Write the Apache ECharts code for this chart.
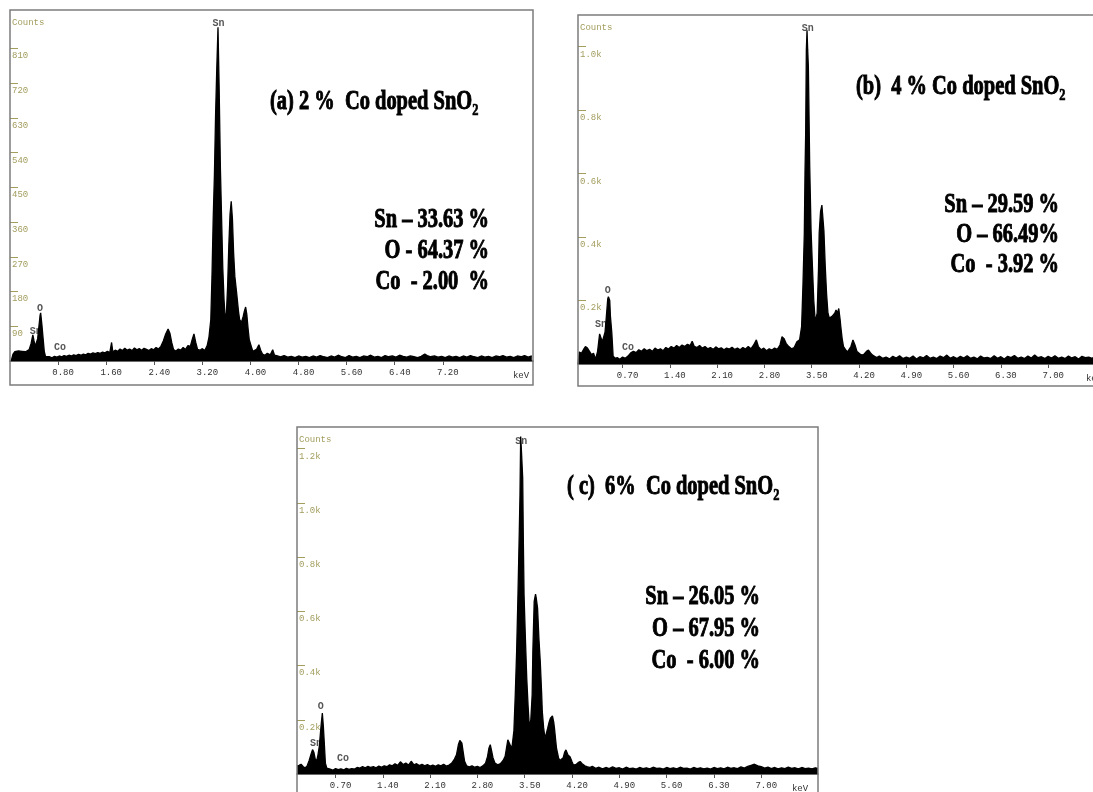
<!DOCTYPE html>
<html><head><meta charset="utf-8">
<script src="https://cdn.jsdelivr.net/npm/echarts@6/dist/echarts.min.js"></script>
<style>html,body{margin:0;padding:0;background:#fff;overflow:hidden}#chart{width:1093px;height:792px}</style>
</head><body><div id="chart"></div>
<script>
// ---- data: [energy keV, counts] ----
const spectrumA = [[0.02,0],[0.05,18],[0.08,24],[0.11,22],[0.14,26],[0.17,23],[0.20,25],[0.23,21],[0.26,24],[0.29,20],[0.32,30],[0.35,45],[0.38,68],[0.40,52],[0.42,38],[0.44,48],[0.46,58],[0.48,88],[0.50,118],[0.51,125],[0.53,95],[0.55,60],[0.57,25],[0.59,12],[0.62,9],[0.66,11],[0.70,8],[0.74,12],[0.78,10],[0.82,13],[0.86,11],[0.90,14],[0.94,12],[0.98,15],[1.02,13],[1.06,16],[1.10,14],[1.14,17],[1.18,15],[1.22,18],[1.26,16],[1.30,20],[1.34,18],[1.38,21],[1.42,19],[1.46,22],[1.50,20],[1.54,23],[1.58,21],[1.62,25],[1.66,22],[1.69,48],[1.71,24],[1.75,28],[1.79,25],[1.83,31],[1.87,27],[1.91,33],[1.95,28],[1.99,31],[2.03,27],[2.07,34],[2.11,29],[2.15,32],[2.19,28],[2.23,33],[2.27,30],[2.31,27],[2.35,32],[2.39,29],[2.43,35],[2.47,31],[2.51,38],[2.55,52],[2.59,70],[2.63,83],[2.66,72],[2.69,48],[2.72,30],[2.76,26],[2.80,31],[2.84,28],[2.88,35],[2.92,30],[2.96,40],[3.00,38],[3.03,55],[3.06,70],[3.09,48],[3.12,30],[3.16,28],[3.20,32],[3.24,27],[3.28,40],[3.31,62],[3.34,107],[3.36,220],[3.38,369],[3.40,480],[3.42,640],[3.44,761],[3.46,865],[3.48,700],[3.50,500],[3.52,369],[3.54,240],[3.56,160],[3.58,110],[3.60,125],[3.62,194],[3.64,300],[3.66,380],[3.68,414],[3.70,369],[3.72,280],[3.74,220],[3.77,177],[3.80,130],[3.82,107],[3.85,100],[3.88,116],[3.90,130],[3.92,140],[3.94,120],[3.96,85],[3.98,55],[4.01,40],[4.04,25],[4.07,20],[4.10,30],[4.14,42],[4.17,28],[4.20,18],[4.24,15],[4.28,20],[4.33,16],[4.37,29],[4.40,15],[4.45,13],[4.50,11],[4.56,14],[4.62,10],[4.68,12],[4.74,9],[4.80,13],[4.86,10],[4.92,12],[4.98,9],[5.04,13],[5.10,10],[5.16,14],[5.22,11],[5.28,9],[5.34,13],[5.40,10],[5.46,15],[5.52,11],[5.58,9],[5.64,14],[5.70,10],[5.76,12],[5.82,9],[5.88,13],[5.94,11],[6.00,15],[6.06,10],[6.12,12],[6.18,9],[6.24,14],[6.30,11],[6.36,13],[6.42,10],[6.48,15],[6.54,12],[6.60,10],[6.66,13],[6.72,11],[6.78,9],[6.84,12],[6.90,18],[6.94,14],[7.00,11],[7.06,13],[7.12,10],[7.18,12],[7.24,9],[7.30,13],[7.36,10],[7.42,12],[7.48,9],[7.54,13],[7.60,10],[7.66,14],[7.72,11],[7.78,9],[7.84,13],[7.90,10],[7.96,12],[8.02,9],[8.08,13],[8.14,11],[8.20,14],[8.26,10],[8.32,12],[8.38,9],[8.44,13],[8.50,11],[8.56,14],[8.62,10],[8.68,13]];

const spectrumB = [[0.04,0],[0.06,38],[0.09,34],[0.12,45],[0.15,55],[0.18,50],[0.21,40],[0.24,30],[0.27,34],[0.30,15],[0.33,40],[0.36,95],[0.38,97],[0.40,70],[0.42,76],[0.44,100],[0.46,150],[0.48,205],[0.49,212],[0.51,200],[0.52,150],[0.54,100],[0.56,25],[0.59,18],[0.62,20],[0.66,15],[0.70,22],[0.74,18],[0.78,25],[0.82,35],[0.86,40],[0.90,36],[0.94,45],[0.98,40],[1.02,48],[1.06,42],[1.10,46],[1.14,40],[1.18,50],[1.22,44],[1.26,48],[1.30,42],[1.34,52],[1.38,47],[1.42,55],[1.46,50],[1.50,58],[1.54,52],[1.58,60],[1.62,55],[1.66,62],[1.70,58],[1.73,72],[1.76,56],[1.80,52],[1.84,58],[1.88,50],[1.92,55],[1.96,48],[2.00,52],[2.04,46],[2.08,54],[2.12,48],[2.16,51],[2.20,45],[2.24,50],[2.28,47],[2.32,53],[2.36,46],[2.40,50],[2.44,45],[2.48,52],[2.52,47],[2.56,55],[2.60,48],[2.64,60],[2.68,76],[2.71,55],[2.75,45],[2.79,50],[2.83,42],[2.87,48],[2.91,44],[2.95,50],[2.99,46],[3.03,60],[3.06,86],[3.09,80],[3.12,65],[3.16,55],[3.20,48],[3.24,52],[3.28,70],[3.32,76],[3.35,118],[3.37,250],[3.39,412],[3.40,600],[3.41,727],[3.42,989],[3.43,1052],[3.44,990],[3.45,937],[3.47,622],[3.49,420],[3.51,307],[3.53,200],[3.55,139],[3.57,150],[3.58,160],[3.60,300],[3.61,412],[3.63,480],[3.65,501],[3.67,496],[3.68,420],[3.70,307],[3.72,220],[3.74,160],[3.76,145],[3.78,139],[3.80,150],[3.82,144],[3.84,160],[3.86,170],[3.88,160],[3.90,175],[3.92,140],[3.93,118],[3.95,80],[3.97,55],[4.00,45],[4.03,38],[4.05,34],[4.08,55],[4.11,76],[4.14,60],[4.17,39],[4.21,32],[4.24,28],[4.27,30],[4.31,40],[4.34,44],[4.37,35],[4.40,28],[4.42,23],[4.46,20],[4.50,25],[4.55,18],[4.60,22],[4.65,16],[4.70,24],[4.75,19],[4.80,26],[4.85,17],[4.90,22],[4.95,18],[5.00,25],[5.05,16],[5.10,23],[5.15,19],[5.20,27],[5.25,18],[5.30,22],[5.35,17],[5.40,25],[5.45,20],[5.50,28],[5.55,18],[5.60,23],[5.65,17],[5.70,24],[5.75,19],[5.80,26],[5.85,18],[5.90,22],[5.95,16],[6.00,25],[6.05,19],[6.10,21],[6.15,17],[6.20,26],[6.25,18],[6.30,23],[6.35,16],[6.40,24],[6.45,20],[6.50,27],[6.55,18],[6.60,22],[6.65,17],[6.70,25],[6.75,19],[6.80,28],[6.85,20],[6.90,23],[6.95,17],[7.00,24],[7.05,19],[7.10,26],[7.15,18],[7.20,22],[7.25,17],[7.30,25],[7.35,19],[7.40,23],[7.45,16],[7.50,24],[7.55,20],[7.60,22],[7.65,18],[7.70,25],[7.75,19],[7.80,22],[7.85,18],[7.90,21]];

const spectrumC = [[0.13,30],[0.16,32],[0.19,36],[0.22,28],[0.25,22],[0.28,30],[0.31,50],[0.34,75],[0.36,90],[0.38,80],[0.40,55],[0.42,47],[0.44,70],[0.46,102],[0.48,160],[0.49,188],[0.505,225],[0.52,176],[0.535,110],[0.55,40],[0.57,22],[0.59,16],[0.62,18],[0.66,14],[0.70,20],[0.74,16],[0.78,19],[0.82,15],[0.86,21],[0.90,17],[0.94,20],[0.98,18],[1.02,24],[1.06,22],[1.10,27],[1.14,23],[1.18,28],[1.22,24],[1.26,27],[1.30,23],[1.34,29],[1.38,25],[1.42,30],[1.46,27],[1.50,34],[1.54,30],[1.58,38],[1.62,32],[1.66,45],[1.70,35],[1.74,40],[1.78,33],[1.82,47],[1.86,34],[1.90,38],[1.94,31],[1.98,36],[2.02,30],[2.06,35],[2.10,29],[2.14,33],[2.18,28],[2.22,34],[2.26,30],[2.30,36],[2.34,29],[2.38,33],[2.42,40],[2.46,55],[2.49,71],[2.52,110],[2.54,124],[2.57,114],[2.59,80],[2.61,47],[2.64,30],[2.68,26],[2.72,30],[2.76,25],[2.80,28],[2.84,24],[2.88,30],[2.92,40],[2.95,65],[2.97,95],[2.99,108],[3.01,85],[3.03,60],[3.06,40],[3.10,34],[3.14,38],[3.18,50],[3.21,65],[3.25,126],[3.28,110],[3.31,95],[3.34,160],[3.36,292],[3.38,450],[3.40,661],[3.42,900],[3.43,1031],[3.44,1245],[3.45,1200],[3.47,1092],[3.48,850],[3.49,661],[3.51,500],[3.53,353],[3.55,250],[3.57,169],[3.59,200],[3.61,292],[3.62,450],[3.64,637],[3.66,664],[3.67,650],[3.69,612],[3.71,500],[3.73,415],[3.75,300],[3.76,230],[3.78,170],[3.80,132],[3.82,150],[3.84,169],[3.86,190],[3.88,206],[3.91,214],[3.93,190],[3.94,169],[3.96,120],[3.97,95],[4.00,60],[4.02,50],[4.04,46],[4.07,60],[4.09,80],[4.11,89],[4.14,70],[4.17,64],[4.20,45],[4.22,33],[4.26,35],[4.29,42],[4.32,46],[4.35,38],[4.39,30],[4.42,27],[4.46,24],[4.50,28],[4.55,21],[4.60,25],[4.65,19],[4.70,24],[4.75,20],[4.80,26],[4.85,21],[4.90,23],[4.95,18],[5.00,25],[5.05,20],[5.10,22],[5.15,18],[5.20,24],[5.25,20],[5.30,23],[5.35,19],[5.40,25],[5.45,21],[5.50,22],[5.55,18],[5.60,24],[5.65,20],[5.70,23],[5.75,19],[5.80,25],[5.85,21],[5.90,22],[5.95,18],[6.00,24],[6.05,20],[6.10,23],[6.15,19],[6.20,22],[6.25,18],[6.30,24],[6.35,20],[6.40,23],[6.45,19],[6.50,25],[6.55,21],[6.60,23],[6.65,20],[6.70,26],[6.75,22],[6.80,28],[6.85,32],[6.90,36],[6.95,30],[7.00,27],[7.05,22],[7.10,25],[7.15,20],[7.20,24],[7.25,19],[7.30,23],[7.35,20],[7.40,25],[7.45,21],[7.50,23],[7.55,19],[7.60,24],[7.65,20],[7.70,22],[7.75,19],[7.80,23],[7.84,21]];

// ---- tick values ----
const xTicksA = [0.8, 1.6, 2.4, 3.2, 4.0, 4.8, 5.6, 6.4, 7.2];
const xTicksBC = [0.7, 1.4, 2.1, 2.8, 3.5, 4.2, 4.9, 5.6, 6.3, 7.0];
const yTicksA = [90, 180, 270, 360, 450, 540, 630, 720, 810];
const yTicksB = [200, 400, 600, 800, 1000];
const yTicksC = [200, 400, 600, 800, 1000, 1200];

// ---- peak annotations (element, keV, counts where label sits) ----
const peakNames = ['Sn', 'O', 'Co', 'Sn'];
const peakKeVA = [0.43, 0.50, 0.83, 3.47];
const peakCntA = [76, 137, 34, 874];
const peakKeVB = [0.38, 0.48, 0.78, 3.44];
const peakCntB = [123, 233, 51, 1058];
const peakKeVC = [0.41, 0.48, 0.81, 3.45];
const peakCntC = [113, 248, 58, 1226];

// ---- texts ----
const titles = ['(a) 2 %  Co doped SnO', '(b)  4 % Co doped SnO', '( c)  6%  Co doped SnO'];
const titleSub = '2';
const statsA = ['Sn – 33.63 %', 'O - 64.37 %', 'Co  - 2.00  %'];
const statsB = ['Sn – 29.59 %', 'O – 66.49%', 'Co  - 3.92 %'];
const statsC = ['Sn – 26.05 %', 'O – 67.95 %', 'Co  - 6.00 %'];

// ---- layout / styling ----
const OLIVE = '#a39d5e';
const MONO = '"Liberation Mono", "DejaVu Sans Mono", monospace';
const SERIF = '"Liberation Serif", "DejaVu Serif", serif';
const TXT_SIZE = 28, TXT_SCALE = 0.73;

const panels = [
  {grid:{left:10, top:10, width:523, height:351}, frameW:523, frameH:375, xMin:0, xMax:8.7, yMax:910, keVGap:-12,
   xTicks:xTicksA, yTicks:yTicksA, yFmt:v=>String(v), spec:spectrumA, pk:[peakKeVA, peakCntA],
   title:{x:270, y:102}, stats:{x:489, y:220, dy:31}, statLines:statsA},
  {grid:{left:578, top:15, width:531, height:349}, frameW:540, frameH:371, xMin:0.04, xMax:7.9, yMax:1100, keVGap:-15,
   xTicks:xTicksBC, yTicks:yTicksB, yFmt:v=>(v/1000).toFixed(1)+'k', spec:spectrumB, pk:[peakKeVB, peakCntB],
   title:{x:856, y:87}, stats:{x:1059, y:205, dy:30}, statLines:statsB},
  {grid:{left:297, top:427, width:521, height:347}, frameW:521, frameH:380, xMin:0.13, xMax:7.84, yMax:1280, keVGap:-18,
   xTicks:xTicksBC, yTicks:yTicksC, yFmt:v=>(v/1000).toFixed(1)+'k', spec:spectrumC, pk:[peakKeVC, peakCntC],
   title:{x:567, y:487}, stats:{x:760, y:597, dy:32}, statLines:statsC}
];

const grid = [], xAxis = [], yAxis = [], series = [], graphic = [];
panels.forEach((p, i) => {
  grid.push(Object.assign({show:false, containLabel:false, outerBoundsMode:'none'}, p.grid));
  xAxis.push({
    gridIndex:i, type:'value', min:p.xMin, max:p.xMax,
    axisLine:{show:true, onZero:false, lineStyle:{color:'#3a3a3a', width:1.5}},
    axisTick:{show:true, length:4, lineStyle:{color:'#555'}, customValues:p.xTicks},
    axisLabel:{show:true, customValues:p.xTicks, formatter:v=>Number(v).toFixed(2),
      fontFamily:MONO, fontSize:9, color:'#333', margin:7, padding:[0,0,0,10]},
    splitLine:{show:false},
    name:'keV', nameLocation:'end', nameGap:p.keVGap,
    nameTextStyle:{fontFamily:MONO, fontSize:9, color:'#333', align:'center', verticalAlign:'top', padding:[10,0,0,0]}
  });
  yAxis.push({
    gridIndex:i, type:'value', min:0, max:p.yMax,
    axisLine:{show:false},
    axisTick:{show:true, inside:true, length:8, lineStyle:{color:OLIVE}, customValues:p.yTicks},
    axisLabel:{show:true, inside:true, customValues:p.yTicks, formatter:p.yFmt,
      fontFamily:MONO, fontSize:9, color:OLIVE, margin:2, align:'left', verticalAlign:'top', padding:[3,0,0,0]},
    splitLine:{show:false},
    name:'Counts', nameLocation:'end', nameGap:-13,
    nameTextStyle:{fontFamily:MONO, fontSize:9, color:OLIVE, align:'left', verticalAlign:'middle', padding:[0,0,0,2]}
  });
  series.push({
    type:'scatter', xAxisIndex:i, yAxisIndex:i, z:1, symbolSize:0, silent:true,
    data:peakNames.map((n, k) => ({name:n, value:[p.pk[0][k], p.pk[1][k]]})),
    label:{show:true, position:'inside', formatter:'{b}', fontFamily:MONO, fontWeight:'bold', fontSize:10, color:'#2a2a2a'}
  });
  series.push({
    type:'line', xAxisIndex:i, yAxisIndex:i, z:3, data:p.spec, showSymbol:false, symbol:'none',
    lineStyle:{color:'#000', width:1.3}, areaStyle:{color:'#000', opacity:1}, silent:true
  });
  graphic.push({type:'rect', z:10, shape:{x:p.grid.left, y:p.grid.top, width:p.frameW, height:p.frameH},
    style:{fill:'none', stroke:'#7c7c7c', lineWidth:1.5}});
  graphic.push({type:'text', z:10, x:p.title.x, y:p.title.y, scaleX:TXT_SCALE, originX:0, originY:0,
    style:{text:'{m|' + titles[i] + '}{s|' + titleSub + '}', align:'left', verticalAlign:'middle',
      rich:{m:{fontFamily:SERIF, fontWeight:'bold', fontSize:TXT_SIZE, fill:'#000', stroke:'#000', lineWidth:1},
            s:{fontFamily:SERIF, fontWeight:'bold', fontSize:17, fill:'#000', stroke:'#000', lineWidth:0.7, padding:[17,0,0,0]}}}});
  p.statLines.forEach((t, k) => {
    graphic.push({type:'text', z:10, x:p.stats.x, y:p.stats.y + k*p.stats.dy, scaleX:TXT_SCALE, originX:0, originY:0,
      style:{text:t, align:'right', verticalAlign:'middle', font:'bold ' + TXT_SIZE + 'px ' + SERIF, fill:'#000', stroke:'#000', lineWidth:1}});
  });
});

const chart = echarts.init(document.getElementById('chart'), null, {renderer:'canvas'});
chart.setOption({animation:false, backgroundColor:'#fff', grid, xAxis, yAxis, series, graphic});
</script></body></html>
